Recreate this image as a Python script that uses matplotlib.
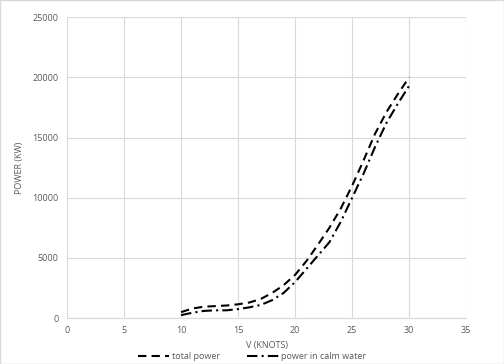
import matplotlib
matplotlib.use("Agg")
import matplotlib.pyplot as plt

speed = [10, 11, 12, 13, 14, 15, 16, 17, 18, 19, 20, 21, 22, 23, 24, 25, 26, 27, 28, 29, 30]
total_power = [500, 800, 950, 1000, 1050, 1150, 1300, 1600, 2100, 2750, 3600, 4750, 6100,
               7500, 9100, 11000, 13100, 15300, 17100, 18600, 20000]
calm_power = [250, 450, 600, 650, 650, 750, 900, 1100, 1500, 2100, 3000, 4100, 5200,
              6300, 8000, 10000, 12000, 14200, 16200, 17800, 19300]

plt.rcParams['font.family'] = ['Open Sans', 'DejaVu Sans']
grey = '#595959'

fig = plt.figure(figsize=(5.04, 3.64), dpi=100)
ax = fig.add_axes([0.133, 0.126, 0.792, 0.827])

ax.plot(speed, total_power, color='black', linestyle=(0, (4, 2.5)), linewidth=1.5, label='total power')
ax.plot(speed, calm_power, color='black', linestyle=(0, (5, 2, 1, 2)), linewidth=1.5, label='power in calm water')

ax.set_xlim(0, 35)
ax.set_ylim(0, 25000)
ax.set_xticks(range(0, 36, 5))
ax.set_yticks(range(0, 25001, 5000))
ax.grid(True, color='#d9d9d9', linewidth=0.8)
ax.set_axisbelow(True)
for s in ['top', 'right', 'left']:
    ax.spines[s].set_visible(False)
ax.spines['bottom'].set_color('#d9d9d9')
ax.tick_params(length=0, labelsize=6.5, labelcolor=grey, pad=6)

ax.set_xlabel('V (KNOTS)', fontsize=6.5, color=grey, labelpad=4)
ax.set_ylabel('POWER (KW)', fontsize=6.5, color=grey, labelpad=6)

fig.legend(loc='lower center', bbox_to_anchor=(0.5, -0.015), ncol=2, frameon=False,
           fontsize=6.5, labelcolor=grey, handlelength=3.5, columnspacing=3, handletextpad=0.3)

fig.patches.append(plt.Rectangle((0, 0), 1, 1, transform=fig.transFigure, fill=False,
                                 edgecolor='#d9d9d9', linewidth=1))

fig.savefig('out.png', dpi=100)
